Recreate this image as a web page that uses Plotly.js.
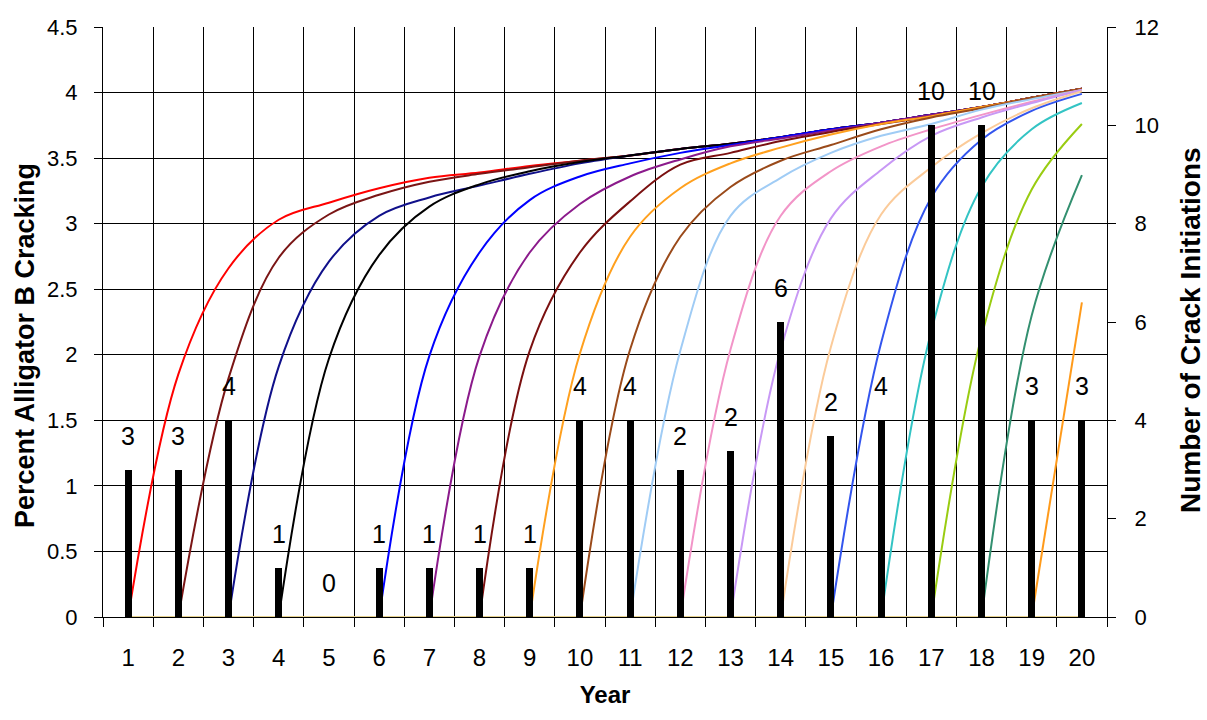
<!DOCTYPE html>
<html>
<head>
<meta charset="utf-8">
<script src="https://cdn.plot.ly/plotly-3.0.1.min.js"></script>
<style>
  html, body { margin: 0; padding: 0; background: #ffffff; }
  #chart { width: 1207px; height: 720px; }
</style>
</head>
<body>
<div id="chart"></div>
<script>
// ---------- data ----------
const years = ['1','2','3','4','5','6','7','8','9','10','11','12','13','14','15','16','17','18','19','20'];

// bar heights (Number of Crack Initiations, right axis) and printed labels
const barCounts = [3, 3, 4, 1, 0, 1, 1, 1, 1, 4, 4, 3, 3.37, 6, 3.69, 4, 10, 10, 4, 4];
const barLabels = ['3','3','4','1','0','1','1','1','1','4','4','2','2','6','2','4','10','10','3','3'];

// zero line running along the bottom of the plot
const baseline = [0, 0, 0, 0, 0, 0, 0, 0, 0, 0, 0, 0, 0, 0, 0, 0, 0, 0, 0, 0];

// Percent Alligator B Cracking curves, one per initiation year (null = not started yet)
const _ = null;
const crackFrom1  = [0, 1.85, 2.66, 3.03, 3.16, 3.27, 3.35, 3.39, 3.44, 3.48, 3.52, 3.57, 3.61, 3.66, 3.72, 3.77, 3.83, 3.89, 3.96, 4.03];
const crackFrom2  = [_, 0, 1.82, 2.74, 3.07, 3.22, 3.32, 3.38, 3.43, 3.48, 3.52, 3.57, 3.61, 3.66, 3.72, 3.77, 3.83, 3.89, 3.96, 4.03];
const crackFrom3  = [_, _, 0, 1.91, 2.71, 3.06, 3.20, 3.29, 3.38, 3.46, 3.52, 3.57, 3.61, 3.66, 3.72, 3.77, 3.83, 3.89, 3.96, 4.03];
const crackFrom4  = [_, _, _, 0, 1.97, 2.76, 3.13, 3.30, 3.40, 3.47, 3.52, 3.57, 3.61, 3.66, 3.72, 3.77, 3.83, 3.89, 3.96, 4.03];
const crackFrom6  = [_, _, _, _, _, 0, 1.99, 2.78, 3.18, 3.36, 3.46, 3.54, 3.60, 3.66, 3.72, 3.77, 3.83, 3.89, 3.96, 4.03];
const crackFrom7  = [_, _, _, _, _, _, 0, 1.99, 2.78, 3.15, 3.36, 3.49, 3.59, 3.65, 3.71, 3.77, 3.83, 3.89, 3.96, 4.03];
const crackFrom8  = [_, _, _, _, _, _, _, 0, 2.03, 2.78, 3.17, 3.45, 3.54, 3.63, 3.70, 3.76, 3.82, 3.89, 3.96, 4.03];
const crackFrom9  = [_, _, _, _, _, _, _, _, 0, 2.01, 2.90, 3.27, 3.46, 3.58, 3.68, 3.76, 3.82, 3.89, 3.96, 4.03];
const crackFrom10 = [_, _, _, _, _, _, _, _, _, 0, 2.04, 2.90, 3.28, 3.48, 3.60, 3.72, 3.81, 3.88, 3.96, 4.03];
const crackFrom11 = [_, _, _, _, _, _, _, _, _, _, 0, 2.03, 3.06, 3.35, 3.54, 3.67, 3.76, 3.87, 3.95, 4.02];
const crackFrom12 = [_, _, _, _, _, _, _, _, _, _, _, 0, 2.04, 3.06, 3.40, 3.59, 3.72, 3.83, 3.93, 4.02];
const crackFrom13 = [_, _, _, _, _, _, _, _, _, _, _, _, 0, 2.04, 3.04, 3.41, 3.67, 3.81, 3.92, 4.02];
const crackFrom14 = [_, _, _, _, _, _, _, _, _, _, _, _, _, 0, 2.06, 3.07, 3.43, 3.69, 3.88, 4.01];
const crackFrom15 = [_, _, _, _, _, _, _, _, _, _, _, _, _, _, 0, 2.09, 3.20, 3.64, 3.86, 3.99];
const crackFrom16 = [_, _, _, _, _, _, _, _, _, _, _, _, _, _, _, 0, 2.18, 3.28, 3.72, 3.92];
const crackFrom17 = [_, _, _, _, _, _, _, _, _, _, _, _, _, _, _, _, 0, 2.14, 3.26, 3.76];
const crackFrom18 = [_, _, _, _, _, _, _, _, _, _, _, _, _, _, _, _, _, 0, 2.30, 3.37];
const crackFrom19 = [_, _, _, _, _, _, _, _, _, _, _, _, _, _, _, _, _, _, 0, 2.40];

const curveSeries = [
  { y: baseline,    color: '#E6D290' },
  { y: crackFrom1,  color: '#FF0000' },
  { y: crackFrom2,  color: '#7A1515' },
  { y: crackFrom3,  color: '#10108A' },
  { y: crackFrom4,  color: '#000000' },
  { y: crackFrom6,  color: '#0000FF' },
  { y: crackFrom7,  color: '#8B1A8B' },
  { y: crackFrom8,  color: '#7A1010' },
  { y: crackFrom9,  color: '#FFA01E' },
  { y: crackFrom10, color: '#9A4A1A' },
  { y: crackFrom11, color: '#A0CCF5' },
  { y: crackFrom12, color: '#F295C8' },
  { y: crackFrom13, color: '#C898F5' },
  { y: crackFrom14, color: '#FBCB9A' },
  { y: crackFrom15, color: '#3355EE' },
  { y: crackFrom16, color: '#33C4C4' },
  { y: crackFrom17, color: '#99CC11' },
  { y: crackFrom18, color: '#339070' },
  { y: crackFrom19, color: '#FF9A1A' }
];

// ---------- traces ----------
const FONT = 'Liberation Sans, Arial, Helvetica, sans-serif';
const traces = curveSeries.map(s => ({
  type: 'scatter',
  mode: 'lines',
  x: years,
  y: s.y,
  xaxis: 'x',
  yaxis: 'y',
  connectgaps: false,
  cliponaxis: false,
  line: { color: s.color, width: 2, shape: 'spline', smoothing: 1 },
  hoverinfo: 'skip',
  showlegend: false
}));

traces.push({
  type: 'bar',
  x: years,
  y: barCounts,
  xaxis: 'x',
  yaxis: 'y2',
  width: 0.14,
  marker: { color: '#000000', line: { width: 0 } },
  hoverinfo: 'skip',
  showlegend: false
});

// count labels above each bar (x given as category index)
const annotations = years.map((yr, i) => ({
  x: i,
  y: barCounts[i],
  xref: 'x',
  yref: 'y2',
  text: barLabels[i],
  showarrow: false,
  yshift: 34,
  font: { family: FONT, size: 25, color: '#000000' }
}));

// vertical axis titles
annotations.push({
  xref: 'paper', yref: 'paper', x: 0, y: 0.5,
  xanchor: 'center', yanchor: 'middle',
  xshift: -78, yshift: -24,
  textangle: -90, showarrow: false,
  text: '<b>Percent Alligator B Cracking</b>',
  font: { family: FONT, size: 27, color: '#000000' }
});
annotations.push({
  xref: 'paper', yref: 'paper', x: 1, y: 0.5,
  xanchor: 'center', yanchor: 'middle',
  xshift: 83, yshift: -8,
  textangle: -90, showarrow: false,
  text: '<b>Number of Crack Initiations</b>',
  font: { family: FONT, size: 28, color: '#000000' }
});

const layout = {
  width: 1207,
  height: 720,
  margin: { l: 103, r: 100, t: 27, b: 103, pad: 0 },
  paper_bgcolor: '#ffffff',
  plot_bgcolor: '#ffffff',
  font: { family: FONT, color: '#000000' },
  bargap: 0,
  xaxis: {
    type: 'category',
    range: [-0.5, 19.5],
    tickson: 'boundaries',
    showgrid: true,
    gridcolor: '#000000',
    gridwidth: 1,
    showline: true,
    linecolor: '#000000',
    linewidth: 1,
    ticks: 'outside',
    ticklen: 9,
    tickcolor: '#000000',
    tickfont: { family: FONT, size: 24, color: '#000000' },
    ticklabelstandoff: 19,
    title: { text: 'Year', font: { family: FONT, size: 24, color: '#000000', weight: 'bold' }, standoff: 16 },
    zeroline: false,
    fixedrange: true
  },
  yaxis: {
    range: [0, 4.5],
    dtick: 0.5,
    tick0: 0,
    showgrid: true,
    gridcolor: '#000000',
    gridwidth: 1,
    showline: true,
    linecolor: '#000000',
    linewidth: 1,
    ticks: 'outside',
    ticklen: 8,
    tickcolor: '#000000',
    tickfont: { family: FONT, size: 22, color: '#000000' },
    ticklabelstandoff: 12,
    zeroline: false,
    fixedrange: true
  },
  yaxis2: {
    overlaying: 'y',
    side: 'right',
    range: [0, 12],
    dtick: 2,
    tick0: 0,
    showgrid: false,
    showline: true,
    linecolor: '#000000',
    linewidth: 1,
    ticks: 'outside',
    ticklen: 8,
    tickcolor: '#000000',
    tickfont: { family: FONT, size: 22, color: '#000000' },
    ticklabelstandoff: 14,
    zeroline: false,
    fixedrange: true
  },
  annotations: annotations
};

Plotly.newPlot('chart', traces, layout, { displayModeBar: false, staticPlot: true });
</script>
</body>
</html>
